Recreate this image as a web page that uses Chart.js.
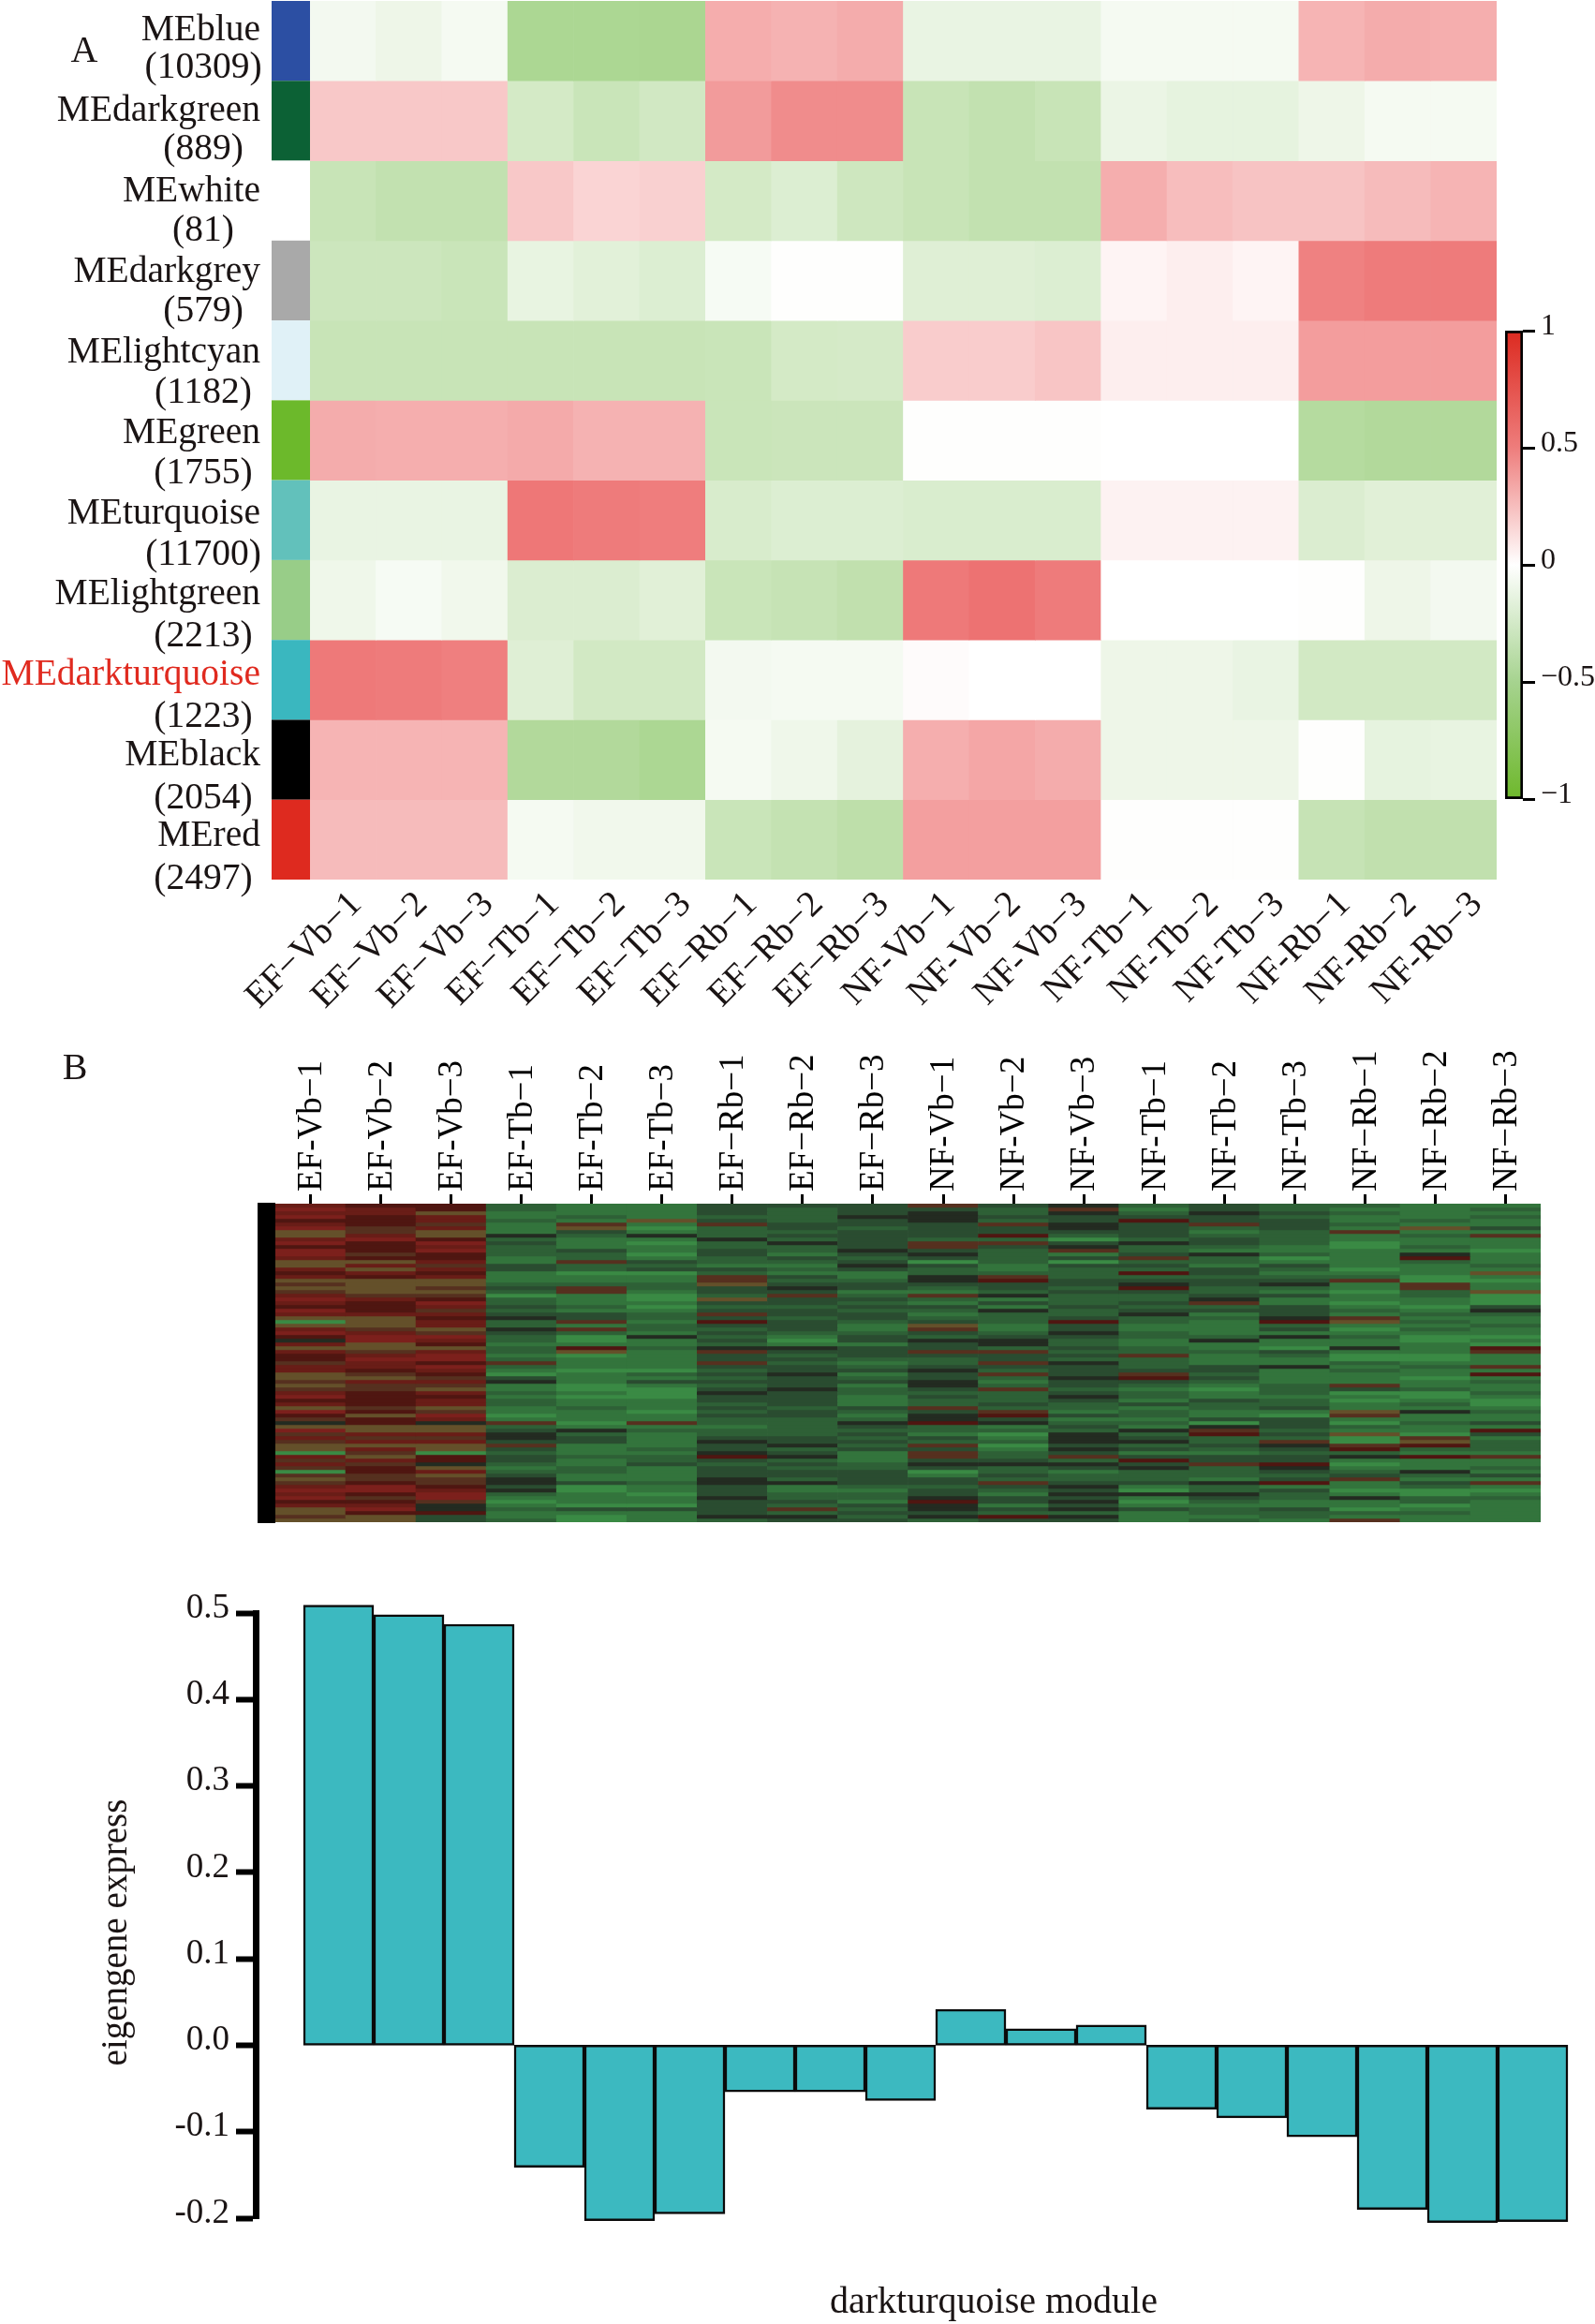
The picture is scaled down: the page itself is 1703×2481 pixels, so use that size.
<!DOCTYPE html>
<html>
<head>
<meta charset="utf-8">
<title>Module heatmap</title>
<script src="https://cdn.jsdelivr.net/npm/chart.js@4"></script>
<style>
  body { margin: 0; background: #fff; }
  #page { position: relative; width: 1703px; height: 2481px; }
  canvas { position: absolute; }
</style>
</head>
<body>
<div id="page">
  <canvas id="moduleHeat" width="1703" height="1100" style="left:0;top:0"></canvas>
  <canvas id="colorBar" width="113" height="560" style="left:1590px;top:320px"></canvas>
  <canvas id="geneHeat" width="1703" height="540" style="left:0;top:1100px"></canvas>
  <canvas id="eigenBars" width="1703" height="801" style="left:0;top:1680px"></canvas>
</div>
<script>
// top panel
const moduleNames = ['MEblue', 'MEdarkgreen', 'MEwhite', 'MEdarkgrey', 'MElightcyan', 'MEgreen',
  'MEturquoise', 'MElightgreen', 'MEdarkturquoise', 'MEblack', 'MEred'];
const moduleSizes = ['(10309)', '(889)', '(81)', '(579)', '(1182)', '(1755)', '(11700)', '(2213)', '(1223)', '(2054)', '(2497)'];
const moduleColors = ['#2c4fa3', '#0c6135', '#ffffff', '#a9a9a9', '#e0f1f7', '#6cb92b', '#62c1bb', '#98cd88', '#3ab7bf', '#000000', '#de2a1f'];
const sampleLabelsA = ['EF−Vb−1', 'EF−Vb−2', 'EF−Vb−3', 'EF−Tb−1', 'EF−Tb−2', 'EF−Tb−3', 'EF−Rb−1', 'EF−Rb−2', 'EF−Rb−3',
  'NF-Vb−1', 'NF-Vb−2', 'NF-Vb−3', 'NF-Tb−1', 'NF-Tb−2', 'NF-Tb−3', 'NF-Rb−1', 'NF-Rb−2', 'NF-Rb−3'];
const moduleValues = [
  [-.08, -.12, -.07, -.57, -.57, -.58, .385, .36, .39, -.15, -.15, -.15, -.07, -.07, -.07, .35, .39, .38],
  [.26, .26, .26, -.30, -.37, -.32, .47, .54, .54, -.38, -.42, -.38, -.14, -.17, -.17, -.12, -.07, -.07],
  [-.38, -.42, -.42, .26, .20, .22, -.30, -.24, -.34, -.38, -.42, -.42, .38, .31, .28, .28, .32, .35],
  [-.35, -.35, -.37, -.16, -.20, -.24, -.06, -.01, -.01, -.22, -.22, -.24, .05, .08, .05, .59, .62, .62],
  [-.38, -.38, -.38, -.38, -.38, -.38, -.37, -.30, -.29, .24, .24, .27, .08, .08, .08, .46, .46, .46],
  [.39, .38, .38, .40, .36, .36, -.37, -.36, -.36, -.01, -.01, -.01, 0, 0, 0, -.51, -.53, -.53],
  [-.15, -.15, -.15, .64, .62, .61, -.27, -.24, -.24, -.26, -.26, -.26, .06, .06, .06, -.25, -.21, -.21],
  [-.11, -.06, -.10, -.25, -.25, -.21, -.37, -.39, -.43, .63, .66, .62, 0, 0, 0, -.01, -.12, -.08],
  [.63, .62, .60, -.22, -.31, -.31, -.08, -.07, -.07, .02, 0, 0, -.12, -.12, -.15, -.31, -.31, -.31],
  [.35, .35, .35, -.53, -.53, -.57, -.07, -.11, -.18, .38, .42, .39, -.12, -.12, -.12, -.01, -.17, -.16],
  [.32, .32, .32, -.07, -.10, -.10, -.37, -.41, -.45, .45, .45, .45, -.01, -.01, -.01, -.39, -.43, -.43]
];
const colorBarColors = ['#dc2a20', '#ee7d7c', '#ffffff', '#a6d38f', '#6eb82c'];

// middle panel
const sampleLabelsB = ['EF-Vb−1', 'EF-Vb−2', 'EF-Vb−3', 'EF-Tb−1', 'EF-Tb−2', 'EF-Tb−3', 'EF−Rb−1', 'EF−Rb−2', 'EF−Rb−3',
  'NF-Vb−1', 'NF-Vb−2', 'NF-Vb−3', 'NF-Tb−1', 'NF-Tb−2', 'NF-Tb−3', 'NF−Rb−1', 'NF−Rb−2', 'NF−Rb−3'];
const stripeColors = ['#232b21', '#2a4c30', '#2e6036', '#33743c', '#3a8a44', '#56301f', '#64502a', '#4f1611', '#691d17', '#7c201c'];
const stripeLevels = [
  [8,7,7,2,3,3,1,1,1,5,1,0,2,1,2,2,3,3],
  [9,8,7,2,3,3,1,2,1,1,2,5,3,1,2,3,3,2],
  [8,8,6,3,3,3,1,2,1,0,2,0,2,0,1,2,3,3],
  [9,7,8,3,2,3,2,2,0,0,1,1,1,1,2,3,3,2],
  [7,7,8,2,3,6,1,2,1,0,2,1,7,1,1,3,2,3],
  [8,7,5,3,5,3,5,1,1,1,5,0,1,5,1,2,3,3],
  [9,5,8,3,6,4,2,1,2,1,1,0,1,2,1,3,6,1],
  [6,5,6,3,1,3,2,2,1,1,1,1,1,3,2,5,3,3],
  [6,8,6,0,2,0,2,1,1,1,7,2,1,2,2,3,2,5],
  [8,9,7,2,3,3,0,2,1,2,2,4,2,1,2,3,3,3],
  [9,7,9,1,3,4,2,0,1,5,5,1,0,1,2,4,3,3],
  [7,7,8,2,3,3,2,2,1,5,1,0,2,2,3,4,2,3],
  [9,7,9,2,1,3,1,2,0,1,2,5,2,3,3,3,3,4],
  [9,5,7,2,2,4,1,3,1,0,2,3,1,0,2,3,0,3],
  [8,7,7,3,2,3,2,1,2,1,2,1,5,2,4,3,7,3],
  [6,6,8,3,5,1,2,2,1,4,2,4,2,2,3,3,2,3],
  [6,8,5,1,2,2,3,3,0,1,3,1,1,3,1,3,3,2],
  [8,6,8,1,2,1,1,2,1,2,3,2,2,1,2,4,3,3],
  [7,8,7,3,4,4,2,3,3,2,2,2,7,1,3,3,3,6],
  [8,7,8,3,3,3,5,1,3,0,5,2,2,2,2,2,4,3],
  [6,6,6,3,3,3,5,2,2,0,7,1,1,1,1,5,4,4],
  [5,6,6,2,2,2,6,1,1,1,1,1,0,1,0,3,5,3],
  [6,6,5,1,5,2,1,0,1,2,1,2,7,2,2,3,5,3],
  [5,6,6,2,5,3,1,1,3,3,2,1,1,2,3,4,2,6],
  [8,5,5,4,3,4,2,5,2,5,0,2,2,1,1,3,2,4],
  [9,8,7,2,3,4,6,1,1,2,3,2,2,0,3,3,3,4],
  [8,7,9,2,3,3,1,1,2,3,1,2,1,5,3,4,3,4],
  [7,7,8,1,2,4,2,2,1,1,3,1,2,2,1,3,4,1],
  [9,7,5,2,3,3,1,1,2,2,0,2,1,1,1,2,3,0],
  [8,8,8,1,1,2,5,1,1,3,2,2,0,3,1,3,2,2],
  [6,6,7,0,1,2,1,2,1,2,2,1,2,2,0,5,3,3],
  [4,6,8,2,5,3,7,1,2,1,2,7,2,3,7,6,2,3],
  [6,6,8,2,3,2,1,1,3,6,3,1,3,3,2,3,3,2],
  [8,5,6,0,5,2,2,1,3,5,3,1,3,3,1,4,2,3],
  [9,8,5,1,2,3,1,2,2,1,2,0,2,3,3,3,3,3],
  [7,9,9,2,4,0,2,3,1,2,1,1,2,2,0,2,4,4],
  [0,9,8,2,4,3,1,4,1,0,0,2,3,0,3,3,4,3],
  [8,6,7,3,3,3,2,3,3,1,0,2,3,3,3,3,3,4],
  [6,6,6,2,7,2,0,0,1,1,2,1,2,3,4,0,3,7],
  [8,5,8,2,6,3,5,1,1,5,5,2,2,2,1,3,3,5],
  [7,8,9,3,4,3,1,2,1,1,1,1,5,3,2,4,4,3],
  [7,9,9,2,3,3,1,1,2,2,1,2,2,3,3,4,4,3],
  [5,8,7,5,3,3,5,2,3,2,5,0,2,3,3,2,3,3],
  [8,8,9,2,3,3,1,1,2,1,1,1,2,1,0,3,2,5],
  [8,7,8,3,4,4,2,1,1,0,2,1,1,1,3,2,3,3],
  [6,5,7,4,3,2,1,0,3,1,5,1,5,2,3,3,3,7],
  [6,6,5,1,3,3,2,1,2,1,2,0,7,1,3,3,4,3],
  [5,8,8,0,3,1,1,1,1,0,3,1,1,2,3,3,3,2],
  [6,5,5,3,4,3,2,1,3,0,2,1,2,3,2,5,3,3],
  [5,5,6,3,4,4,1,0,2,1,5,2,3,4,2,1,2,3],
  [8,7,8,2,3,4,0,1,2,2,2,1,2,3,2,4,4,2],
  [9,7,7,3,4,4,1,1,3,1,2,0,2,3,3,3,4,3],
  [7,7,8,2,3,3,1,1,3,2,2,1,3,1,2,4,3,4],
  [8,7,8,2,3,3,2,1,3,2,1,2,1,2,2,3,2,4],
  [6,5,6,3,2,3,1,2,1,5,2,2,3,2,1,3,3,3],
  [9,7,5,3,3,4,2,1,2,1,5,3,2,3,3,6,0,2],
  [7,6,9,4,3,3,1,1,3,0,7,1,2,3,4,5,3,3],
  [5,7,8,3,3,3,2,2,2,0,1,3,3,1,1,3,3,3],
  [0,7,0,5,4,5,2,2,0,7,0,2,2,4,1,4,2,1],
  [6,6,6,2,3,3,3,2,1,2,3,1,3,0,1,2,3,3],
  [9,6,6,1,0,2,2,2,2,2,2,2,0,5,2,3,3,7],
  [5,8,8,0,2,3,2,2,1,3,4,0,2,7,1,6,4,1],
  [8,5,5,0,1,3,1,1,2,1,3,0,1,2,2,4,5,3],
  [5,8,8,1,1,3,0,1,1,2,2,0,0,2,5,4,6,2],
  [6,6,6,5,3,3,1,0,2,5,4,1,2,1,0,5,7,2],
  [6,8,6,1,3,2,1,2,1,1,3,0,1,2,1,7,2,2],
  [4,5,4,2,3,3,0,1,3,5,2,1,3,3,2,2,3,3],
  [8,6,7,1,2,2,7,0,3,5,2,5,1,1,1,0,7,5],
  [5,8,7,1,3,2,1,2,3,1,1,2,7,1,1,3,3,3],
  [8,5,0,2,3,1,2,1,2,0,0,0,1,5,7,4,3,3],
  [5,7,6,3,2,3,1,2,2,1,2,1,0,2,0,3,3,2],
  [4,7,8,2,2,3,1,1,1,4,2,3,2,2,1,2,0,3],
  [5,5,6,1,3,3,1,1,1,3,1,2,2,2,2,1,2,1],
  [6,5,5,0,3,3,0,2,1,1,2,2,2,3,1,5,3,3],
  [5,7,5,0,1,2,0,0,1,1,5,1,1,0,7,3,1,5],
  [8,9,7,1,4,3,1,3,2,2,1,0,3,2,3,3,2,3],
  [9,9,8,0,4,3,1,3,3,1,2,1,4,2,1,4,4,4],
  [8,7,9,2,3,4,1,2,2,1,3,0,0,0,2,3,4,3],
  [9,5,9,3,3,3,0,2,2,0,1,1,3,1,2,0,2,2],
  [7,7,5,4,3,3,1,1,3,7,1,0,4,2,3,3,2,3],
  [8,8,0,3,4,4,1,2,1,0,3,1,3,3,3,3,4,3],
  [6,9,0,2,1,1,1,5,2,0,1,0,1,2,1,4,3,3],
  [6,7,7,3,3,3,1,2,1,1,2,2,3,2,2,2,2,3],
  [5,6,1,3,4,3,0,0,2,0,7,0,3,3,2,3,3,3],
  [6,6,1,2,4,3,2,1,1,2,1,1,3,2,3,5,3,3]
];

// bottom panel
const eigenValues = [0.509, 0.498, 0.487, -0.141, -0.203, -0.195, -0.054, -0.054, -0.064,
  0.0415, 0.019, 0.0235, -0.074, -0.084, -0.106, -0.19, -0.205, -0.204];
const yTitleBars = 'eigengene express';
const xTitleBars = 'darkturquoise module';

const serif = 'Liberation Serif';
const inkColor = '#1a1414';
Chart.defaults.animation = false;
Chart.defaults.responsive = false;
Chart.defaults.font.family = serif;
Chart.defaults.color = inkColor;
Chart.defaults.plugins.legend.display = false;
Chart.defaults.plugins.tooltip.enabled = false;

function mix(end, t) {
  const c = end.map(e => Math.round(255 + (e - 255) * t));
  return `rgb(${c[0]},${c[1]},${c[2]})`;
}
function heatColor(v) {
  return v >= 0 ? mix([228, 42, 42], v) : mix([110, 184, 66], -v);
}
function cellRows(rows, colorOf) {
  return rows.map((row, r) => ({
    data: row.map(() => [r, r + 1]),
    backgroundColor: row.map(colorOf),
    borderWidth: 0,
    barPercentage: 1,
    categoryPercentage: 1,
    grouped: false
  }));
}
function putText(ctx, text, x, y, size, align, color, angle) {
  ctx.save();
  ctx.translate(x, y);
  if (angle) ctx.rotate(angle);
  ctx.font = size + 'px "' + serif + '"';
  ctx.fillStyle = color || inkColor;
  ctx.textAlign = align;
  ctx.textBaseline = 'middle';
  ctx.fillText(text, 0, 0);
  ctx.restore();
}

// A: rows are drawn as floating bars, colour strip and row names hang off the y scale
new Chart(document.getElementById('moduleHeat'), {
  type: 'bar',
  data: { labels: sampleLabelsA, datasets: cellRows(moduleValues, heatColor) },
  options: {
    layout: { padding: { left: 331, right: 105, top: 1, bottom: 1 } },
    scales: {
      x: {
        grid: { display: false, drawTicks: false },
        border: { display: false },
        afterFit(s) { s.height = 160; },
        ticks: { autoSkip: false, minRotation: 45, maxRotation: 45, padding: 4, labelOffset: 14, font: { size: 39 } }
      },
      y: { display: false, reverse: true, min: 0, max: moduleNames.length }
    }
  },
  plugins: [{
    id: 'rowLabels',
    afterDatasetsDraw(chart) {
      const { ctx, scales: { y } } = chart;
      moduleNames.forEach((name, i) => {
        const top = y.getPixelForValue(i), bottom = y.getPixelForValue(i + 1);
        ctx.fillStyle = moduleColors[i];
        ctx.fillRect(290, top, 41, bottom - top);
        const red = name === 'MEdarkturquoise' ? '#e02a1f' : inkColor;
        putText(ctx, name, 278, 33 + i * 86, 39.5, 'right', red);
        putText(ctx, moduleSizes[i], 217, 73 + i * 86.6, 39.5, 'center');
      });
      putText(ctx, 'A', 90, 55, 40, 'center');
    }
  }]
});

new Chart(document.getElementById('colorBar'), {
  type: 'bar',
  data: {
    labels: [''],
    datasets: [{
      data: [[-1, 1]],
      backgroundColor(c) {
        const a = c.chart.chartArea;
        if (!a) return '#fff';
        const g = c.chart.ctx.createLinearGradient(0, a.top, 0, a.bottom);
        colorBarColors.forEach((col, i) => g.addColorStop(i / (colorBarColors.length - 1), col));
        return g;
      },
      borderColor: '#000',
      borderWidth: 3,
      borderSkipped: false,
      barPercentage: 1,
      categoryPercentage: 1
    }]
  },
  options: {
    layout: { padding: { left: 17, top: 33, bottom: 27 } },
    scales: {
      x: { display: false },
      y: {
        position: 'right', min: -1, max: 1,
        afterFit(s) { s.width = 77; },
        border: { display: false },
        grid: { drawOnChartArea: false, tickLength: 13, tickWidth: 3, tickColor: '#000' },
        ticks: {
          stepSize: 0.5, padding: 6, labelOffset: -4, font: { size: 32 },
          callback: v => String(v).replace('-', '−')
        }
      }
    }
  }
});

// B: expression stripes
new Chart(document.getElementById('geneHeat'), {
  type: 'bar',
  data: { labels: sampleLabelsB, datasets: cellRows(stripeLevels, k => stripeColors[k]) },
  options: {
    layout: { padding: { left: 294, right: 58, top: 0, bottom: 15 } },
    scales: {
      x: {
        position: 'top',
        afterFit(s) { s.height = 185; },
        border: { display: false },
        grid: { offset: false, drawOnChartArea: false, tickLength: 10, tickWidth: 3, tickColor: '#000' },
        ticks: { autoSkip: false, minRotation: 90, maxRotation: 90, padding: 3, labelOffset: 46, color: '#000', font: { size: 37 } }
      },
      y: { display: false, reverse: true, min: 0, max: stripeLevels.length }
    }
  },
  plugins: [{
    id: 'sideBar',
    afterDatasetsDraw(chart) {
      const { ctx, chartArea: a } = chart;
      ctx.fillStyle = '#000';
      ctx.fillRect(a.left - 19, a.top - 1, 19, a.bottom - a.top + 2);
      putText(ctx, 'B', 80, 41, 40, 'center');
    }
  }]
});

// eigengene bars, x runs in sample units and starts left of the first bar to leave the axis gap
new Chart(document.getElementById('eigenBars'), {
  type: 'bar',
  data: {
    datasets: [{
      data: eigenValues.map((v, i) => ({ x: i + 0.5, y: v })),
      backgroundColor: '#3cb9c0',
      borderColor: '#0a0a0a',
      borderWidth: 2.5,
      borderSkipped: false,
      barPercentage: 1,
      categoryPercentage: 1,
      clip: false
    }]
  },
  options: {
    layout: { padding: { right: 29, top: 42, bottom: 113 } },
    scales: {
      x: { type: 'linear', offset: false, display: false, min: -0.68, max: 18 },
      y: {
        min: -0.2, max: 0.5,
        afterFit(s) { s.width = 273; },
        border: { color: '#000', width: 7 },
        grid: { drawOnChartArea: false, tickLength: 21, tickWidth: 6, tickColor: '#000' },
        ticks: {
          stepSize: 0.1, padding: 7, labelOffset: -5, font: { size: 37 },
          callback: v => (Math.abs(v) < 1e-9 ? 0 : v).toFixed(1)
        }
      }
    }
  },
  plugins: [{
    id: 'panelTitles',
    afterDraw(chart) {
      putText(chart.ctx, yTitleBars, 125, 383, 39, 'center', inkColor, -Math.PI / 2);
      putText(chart.ctx, xTitleBars, 1061, 778, 40, 'center');
    }
  }]
});
</script>
</body>
</html>
